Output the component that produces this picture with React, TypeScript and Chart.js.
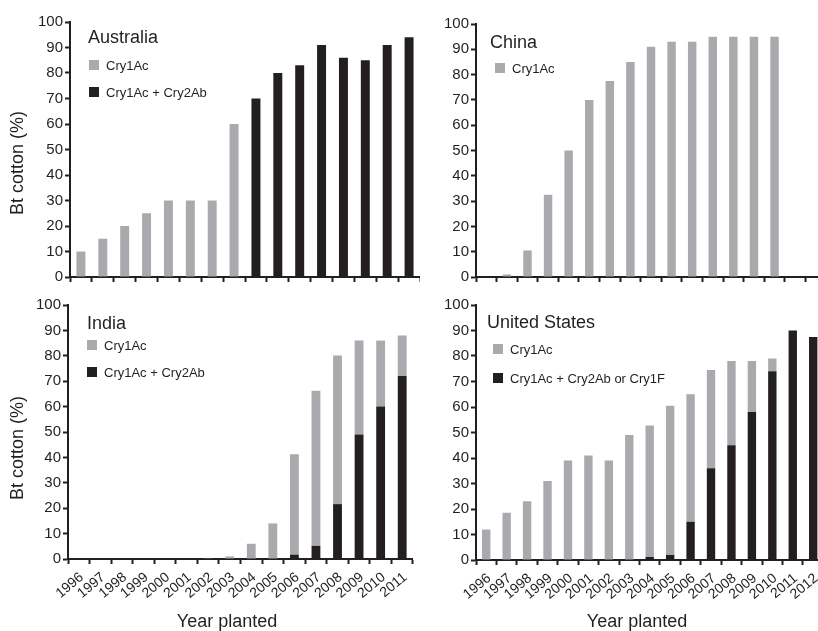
import React, { useEffect, useRef } from 'react';
import { Chart, registerables } from 'chart.js';

Chart.register(...registerables);

// ---------- data ----------
const YEARS_16 = ['1996', '1997', '1998', '1999', '2000', '2001', '2002', '2003', '2004', '2005', '2006', '2007', '2008', '2009', '2010', '2011'];
const YEARS_17 = ['1996', '1997', '1998', '1999', '2000', '2001', '2002', '2003', '2004', '2005', '2006', '2007', '2008', '2009', '2010', '2011', '2012'];

const AUS_CRY1AC = [10, 15, 20, 25, 30, 30, 30, 60, 0, 0, 0, 0, 0, 0, 0, 0];
const AUS_DUAL = [0, 0, 0, 0, 0, 0, 0, 0, 70, 80, 83, 91, 86, 85, 91, 94];

const CHINA_CRY1AC = [0, 1, 10.5, 32.5, 50, 70, 77.5, 85, 91, 93, 93, 95, 95, 95, 95, 0, 0];

const INDIA_CRY1AC = [0, 0, 0, 0, 0, 0, 0.3, 1, 6, 14, 39.5, 61, 58.5, 37, 26, 16];
const INDIA_DUAL = [0, 0, 0, 0, 0, 0, 0, 0, 0, 0, 1.7, 5.2, 21.6, 49, 60, 72];

const US_CRY1AC = [12, 18.5, 23, 31, 39, 41, 39, 49, 51.5, 58.5, 50, 38.5, 33, 20, 5, 0, 0];
const US_DUAL = [0, 0, 0, 0, 0, 0, 0, 0, 1.2, 2, 15, 36, 45, 58, 74, 90, 87.5];

const LABEL_CRY1AC = 'Cry1Ac';
const LABEL_DUAL = 'Cry1Ac + Cry2Ab';
const LABEL_DUAL_US = 'Cry1Ac + Cry2Ab or Cry1F';

const Y_TITLE = 'Bt cotton (%)';
const X_TITLE = 'Year planted';

// ---------- styles ----------
const GRAY = '#a9aaad';
const BLACK = '#231f20';
const FONT = "'Liberation Sans', Arial, Helvetica, sans-serif";

type Series = { label: string; data: number[]; color: string };

type PanelCfg = {
  title: string;
  labels: string[];
  stack: Series[]; // bottom to top
  legend: Series[]; // display order
  x: number; y: number; w: number; h: number;
  yw: number; xh: number; pt: number;
  showX: boolean;
  titlePos: [number, number];
  legendPos: [number, number, number]; // dx, dy first, gap
  yTitle?: [number, number];
  xTitle?: [number, number];
};

const gray = (label: string, data: number[]): Series => ({ label, data, color: GRAY });
const black = (label: string, data: number[]): Series => ({ label, data, color: BLACK });

const PANELS: PanelCfg[] = [
  {
    title: 'Australia', labels: YEARS_16,
    stack: [black(LABEL_DUAL, AUS_DUAL), gray(LABEL_CRY1AC, AUS_CRY1AC)],
    legend: [gray(LABEL_CRY1AC, AUS_CRY1AC), black(LABEL_DUAL, AUS_DUAL)],
    x: 0, y: 0, w: 420, h: 290, yw: 70, xh: 13, pt: 22, showX: false,
    titlePos: [18, 16], legendPos: [19, 43, 27], yTitle: [18, 163],
  },
  {
    title: 'China', labels: YEARS_17,
    stack: [gray(LABEL_CRY1AC, CHINA_CRY1AC)],
    legend: [gray(LABEL_CRY1AC, CHINA_CRY1AC)],
    x: 405, y: 0, w: 421, h: 290, yw: 71, xh: 13, pt: 24, showX: false,
    titlePos: [14, 19], legendPos: [19, 44, 27],
  },
  {
    title: 'India', labels: YEARS_16,
    stack: [black(LABEL_DUAL, INDIA_DUAL), gray(LABEL_CRY1AC, INDIA_CRY1AC)],
    legend: [gray(LABEL_CRY1AC, INDIA_CRY1AC), black(LABEL_DUAL, INDIA_DUAL)],
    x: 0, y: 290, w: 418, h: 341, yw: 68, xh: 72, pt: 15, showX: true,
    titlePos: [19, 19], legendPos: [19, 40, 27], yTitle: [18, 158], xTitle: [227, 332],
  },
  {
    title: 'United States', labels: YEARS_17,
    stack: [black(LABEL_DUAL_US, US_DUAL), gray(LABEL_CRY1AC, US_CRY1AC)],
    legend: [gray(LABEL_CRY1AC, US_CRY1AC), black(LABEL_DUAL_US, US_DUAL)],
    x: 405, y: 290, w: 424, h: 341, yw: 71, xh: 71, pt: 15, showX: true,
    titlePos: [11, 18], legendPos: [17, 44, 29], xTitle: [232, 332],
  },
];

const annotPlugin = {
  id: 'panelAnnot',
  afterDraw(chart: any, _args: any, opts: any) {
    const cfg: PanelCfg = opts.cfg;
    if (!cfg) return;
    const { ctx, chartArea } = chart;
    const { left, top } = chartArea;
    ctx.save();
    ctx.fillStyle = BLACK;
    ctx.textBaseline = 'middle';
    ctx.textAlign = 'left';
    ctx.font = `18px ${FONT}`;
    ctx.fillText(cfg.title, left + cfg.titlePos[0], top + cfg.titlePos[1]);

    ctx.font = `13px ${FONT}`;
    cfg.legend.forEach((s, i) => {
      const cy = top + cfg.legendPos[1] + i * cfg.legendPos[2];
      const sx = left + cfg.legendPos[0];
      ctx.fillStyle = s.color;
      ctx.fillRect(sx, cy - 5, 10, 10);
      ctx.fillStyle = BLACK;
      ctx.fillText(s.label, sx + 17, cy + 1);
    });

    ctx.font = `18px ${FONT}`;
    ctx.textAlign = 'center';
    if (cfg.yTitle) {
      ctx.save();
      ctx.translate(cfg.yTitle[0], cfg.yTitle[1]);
      ctx.rotate(-Math.PI / 2);
      ctx.fillText(Y_TITLE, 0, 0);
      ctx.restore();
    }
    if (cfg.xTitle) {
      ctx.fillText(X_TITLE, cfg.xTitle[0], cfg.xTitle[1]);
    }
    ctx.restore();
  },
};

function Panel({ cfg }: { cfg: PanelCfg }) {
  const ref = useRef<HTMLCanvasElement>(null);
  useEffect(() => {
    if (!ref.current) return;
    const yFont = { family: FONT, size: 15 };
    const xFont = { family: FONT, size: 14 };
    const chart = new Chart(ref.current, {
      type: 'bar',
      data: {
        labels: cfg.labels,
        datasets: cfg.stack.map((s) => ({
          label: s.label,
          data: s.data,
          backgroundColor: s.color,
          borderWidth: 0,
          categoryPercentage: 1,
          barPercentage: 0.41,
        })),
      },
      options: {
        responsive: false,
        animation: false,
        devicePixelRatio: 1,
        layout: { padding: { top: cfg.pt, right: 0, left: 0, bottom: 0 } },
        plugins: {
          legend: { display: false },
          tooltip: { enabled: false },
          title: { display: false },
          panelAnnot: { cfg },
        } as any,
        scales: {
          x: {
            stacked: true,
            offset: true,
            grid: {
              display: true,
              drawOnChartArea: false,
              drawTicks: true,
              tickLength: 5,
              tickWidth: 2,
              tickColor: BLACK,
              offset: true,
            },
            border: { display: true, color: BLACK, width: 2 },
            ticks: {
              display: cfg.showX,
              autoSkip: false,
              maxRotation: 40,
              minRotation: 40,
              padding: 5,
              labelOffset: 3,
              color: BLACK,
              font: xFont,
            },
            afterFit: (s: any) => { s.height = cfg.xh; },
          },
          y: {
            stacked: true,
            min: 0,
            max: 100,
            grid: {
              display: true,
              drawOnChartArea: false,
              drawTicks: true,
              tickLength: 5,
              tickWidth: 2,
              tickColor: BLACK,
            },
            border: { display: true, color: BLACK, width: 2 },
            ticks: { stepSize: 10, padding: 2, color: BLACK, font: yFont },
            afterFit: (s: any) => { s.width = cfg.yw; },
          },
        },
      } as any,
      plugins: [annotPlugin],
    });
    return () => chart.destroy();
  }, [cfg]);
  return (
    <canvas
      ref={ref}
      width={cfg.w}
      height={cfg.h}
      style={{ position: 'absolute', left: cfg.x, top: cfg.y, width: cfg.w, height: cfg.h }}
    />
  );
}

export default function App() {
  return (
    <div style={{ position: 'fixed', left: 0, top: 0, width: 818, height: 631, overflow: 'hidden', background: '#fff' }}>
      {PANELS.map((p) => (
        <Panel key={p.title} cfg={p} />
      ))}
    </div>
  );
}
